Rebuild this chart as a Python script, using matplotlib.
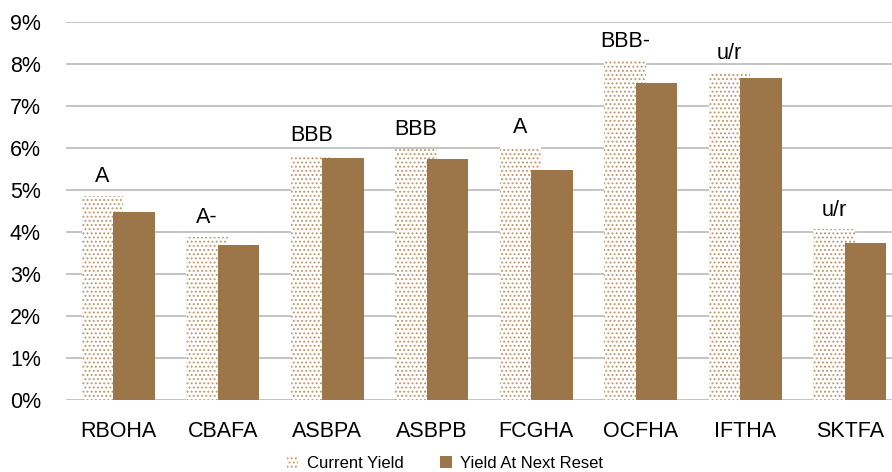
import matplotlib
matplotlib.use("Agg")
import matplotlib.pyplot as plt
import numpy as np
from matplotlib.patches import Patch
from matplotlib.ticker import FuncFormatter

plt.rcParams['font.family'] = ['Liberation Sans', 'DejaVu Sans']
plt.rcParams['hatch.linewidth'] = 0.9

categories = ["RBOHA", "CBAFA", "ASBPA", "ASBPB", "FCGHA", "OCFHA", "IFTHA", "SKTFA"]
current_yield = [4.86, 3.89, 5.83, 5.98, 6.03, 8.08, 7.80, 4.06]
reset_yield = [4.48, 3.68, 5.77, 5.74, 5.48, 7.55, 7.67, 3.75]
ratings = ["A", "A-", "BBB", "BBB", "A", "BBB-", "u/r", "u/r"]
yticks = list(range(0, 10))

brown = "#9C7549"
dot_color = "#BF976B"

fig = plt.figure(figsize=(8.92, 4.72), dpi=100)
ax = fig.add_axes([66 / 892, 72 / 472, 836 / 892, 378 / 472])

x = np.arange(len(categories))
w = 0.40
off = 0.15

ax.bar(x - off, current_yield, width=w, facecolor="white", edgecolor=dot_color,
       linewidth=0, hatch="....", zorder=2, label="Current Yield")
ax.bar(x + off, reset_yield, width=w, color=brown, linewidth=0, zorder=3,
       label="Yield At Next Reset")

for xi, v, r in zip(x, current_yield, ratings):
    ax.annotate(r, (xi - off, v), xytext=(0, 10), textcoords="offset points",
                ha="center", va="baseline", fontsize=15.5, color="black")

ax.set_ylim(0, 9)
ax.set_xlim(-0.5, 7.5)
ax.set_yticks(yticks)
ax.yaxis.set_major_formatter(FuncFormatter(lambda v, p: f"{int(v)}%"))
ax.set_xticks(x)
ax.set_xticklabels(categories)
ax.tick_params(axis="both", length=0, labelsize=15.5, colors="black")
ax.tick_params(axis="y", pad=18)
ax.tick_params(axis="x", pad=15)
ax.grid(axis="y", color="#BFBFBF", linewidth=1.3, zorder=0)
ax.set_axisbelow(True)
for s in ax.spines.values():
    s.set_visible(False)

handles = [Patch(facecolor="white", edgecolor=dot_color, linewidth=0, hatch="...."),
           Patch(facecolor=brown, linewidth=0)]
fig.legend(handles, ["Current Yield", "Yield At Next Reset"], loc="center",
           bbox_to_anchor=(445 / 892, 1 - 463 / 472), ncol=2, frameon=False,
           fontsize=12, handlelength=0.7, handleheight=0.7, handletextpad=0.5,
           columnspacing=2.2, borderaxespad=0)

fig.savefig("out.png", dpi=100)
